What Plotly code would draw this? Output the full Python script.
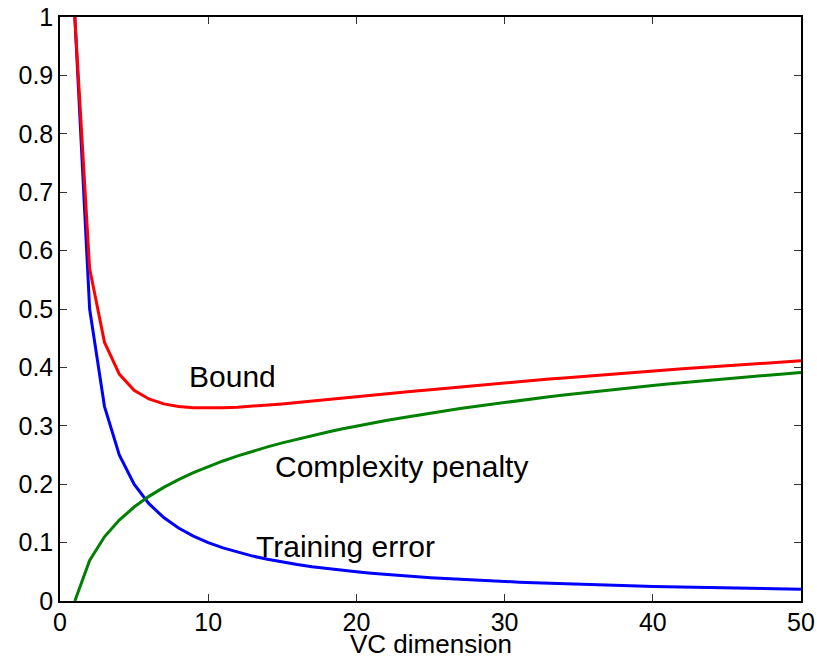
import plotly.graph_objects as go

vc_dim = list(range(1, 51))

training_error = [1.0, 0.5, 0.3333, 0.25, 0.2, 0.1667, 0.1429, 0.125, 0.1111, 0.1,
                  0.0909, 0.0833, 0.0769, 0.0714, 0.0667, 0.0625, 0.0588, 0.0556, 0.0526, 0.05,
                  0.0476, 0.0455, 0.0435, 0.0417, 0.04, 0.0385, 0.037, 0.0357, 0.0345, 0.0333,
                  0.0323, 0.0313, 0.0303, 0.0294, 0.0286, 0.0278, 0.027, 0.0263, 0.0256, 0.025,
                  0.0244, 0.0238, 0.0233, 0.0227, 0.0222, 0.0217, 0.0213, 0.0208, 0.0204, 0.02]

complexity_penalty = [0.0, 0.0693, 0.1099, 0.1386, 0.1609, 0.1792, 0.1946, 0.2079, 0.2197, 0.2303,
                      0.2398, 0.2485, 0.2565, 0.2639, 0.2708, 0.2773, 0.2833, 0.2890, 0.2944, 0.2996,
                      0.3045, 0.3091, 0.3135, 0.3178, 0.3219, 0.3258, 0.3296, 0.3332, 0.3367, 0.3401,
                      0.3434, 0.3466, 0.3497, 0.3526, 0.3555, 0.3584, 0.3611, 0.3638, 0.3664, 0.3689,
                      0.3714, 0.3738, 0.3761, 0.3784, 0.3807, 0.3829, 0.3850, 0.3871, 0.3892, 0.3912]

bound = [1.0, 0.5693, 0.4432, 0.3886, 0.3609, 0.3459, 0.3375, 0.3329, 0.3308, 0.3303,
         0.3307, 0.3318, 0.3334, 0.3353, 0.3375, 0.3398, 0.3421, 0.3446, 0.3470, 0.3496,
         0.3521, 0.3546, 0.3570, 0.3595, 0.3619, 0.3643, 0.3666, 0.3689, 0.3712, 0.3734,
         0.3757, 0.3779, 0.3800, 0.3820, 0.3841, 0.3862, 0.3881, 0.3901, 0.3920, 0.3939,
         0.3958, 0.3976, 0.3994, 0.4011, 0.4029, 0.4046, 0.4063, 0.4079, 0.4096, 0.4112]

labels = ["Bound", "Complexity penalty", "Training error"]
label_x = [8.6, 14.4, 13.1]
label_y = [0.384, 0.231, 0.094]

x_title = "VC dimension"
x_ticks = [0, 10, 20, 30, 40, 50]
y_ticks = [0, 0.1, 0.2, 0.3, 0.4, 0.5, 0.6, 0.7, 0.8, 0.9, 1]
y_tick_text = ["0", "0.1", "0.2", "0.3", "0.4", "0.5", "0.6", "0.7", "0.8", "0.9", "1"]

FONT = "Liberation Sans, Arial, Helvetica, sans-serif"

fig = go.Figure()
fig.add_trace(go.Scatter(x=vc_dim, y=training_error, mode="lines",
                         line=dict(color="#0000ff", width=3), name="Training error"))
fig.add_trace(go.Scatter(x=vc_dim, y=complexity_penalty, mode="lines",
                         line=dict(color="#008000", width=3), name="Complexity penalty"))
fig.add_trace(go.Scatter(x=vc_dim, y=bound, mode="lines",
                         line=dict(color="#ff0000", width=3), name="Bound"))

for t, x, y in zip(labels, label_x, label_y):
    fig.add_annotation(x=x, y=y, text=t, showarrow=False, xanchor="left", yanchor="middle",
                       font=dict(family=FONT, size=30, color="black"))

fig.add_annotation(x=0.5, y=-0.074, xref="paper", yref="paper", text=x_title,
                   showarrow=False, xanchor="center", yanchor="middle",
                   font=dict(family=FONT, size=26, color="black"))

axis_common = dict(showgrid=False, zeroline=False, showline=True, linecolor="black",
                   linewidth=1.5, mirror="ticks", ticks="inside", ticklen=7,
                   tickcolor="#333333", tickwidth=1, automargin=False,
                   ticklabeloverflow="allow",
                   tickfont=dict(family=FONT, size=25, color="black"))

fig.update_xaxes(range=[0, 50], tickvals=x_ticks, ticklabelstandoff=-2, **axis_common)
fig.update_yaxes(range=[0, 1], tickvals=y_ticks, ticktext=y_tick_text,
                 ticklabelstandoff=0, **axis_common)

fig.update_layout(width=817, height=661, margin=dict(l=60, r=16, t=17, b=60),
                  paper_bgcolor="white", plot_bgcolor="white", showlegend=False,
                  font=dict(family=FONT))

fig.write_html("out.html", config={"displayModeBar": False},
               post_script="document.body.style.margin='0';")
